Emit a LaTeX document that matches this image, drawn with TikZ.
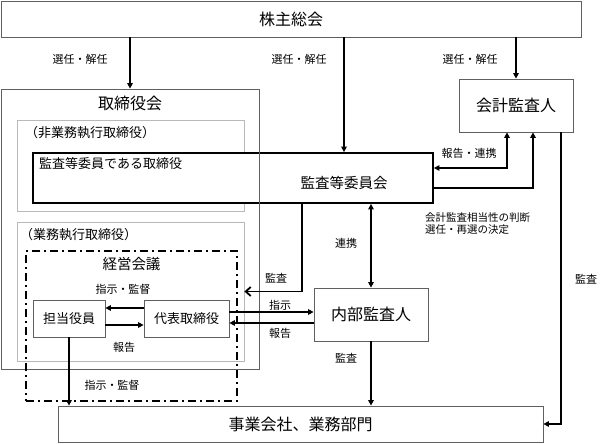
\documentclass[tikz,border=0pt]{standalone}
\usepackage{fontspec}
\setmainfont{Noto Sans CJK JP}
\usetikzlibrary{positioning, arrows.meta}

\tikzset{
  box/.style={draw=gray!75!black, line width=0.8pt, inner sep=0pt},
  subbox/.style={draw=gray!55, line width=0.8pt, inner sep=0pt},
  ttl/.style={font=\fontsize{16}{18}\selectfont, inner sep=0pt},
  mid/.style={font=\fontsize{13}{15}\selectfont, inner sep=0pt},
  lbl/.style={font=\fontsize{11}{12}\selectfont, inner sep=0pt},
  link/.style={line width=1.8pt},
}

\begin{document}
\begin{tikzpicture}[x=1pt, y=-1pt, >={Triangle[length=5.5pt,width=5.5pt]}]
    \useasboundingbox (0,0) rectangle (614,444);

    % boxes
    \node[box, ttl, minimum width=580pt, minimum height=36pt] (top) at (291,19) {株主総会};
    \node[subbox, minimum width=227pt, minimum height=91pt] (nonexec) at (130.5,165.5) {};
    \node[draw, fill=white, line width=1.8pt, minimum width=400pt, minimum height=50pt] (committee) at (233,178) {};
    \node[box, minimum width=258pt, minimum height=280pt] (board) at (130,229) {};
    \node[subbox, minimum width=227pt, minimum height=139pt] (exec) at (130.5,291.5) {};
    \node[line width=1.8pt, draw, dash pattern=on 8pt off 4pt on 2pt off 4pt,
          minimum width=211pt, minimum height=150pt] (meeting) at (131.5,326) {};
    \node[box, mid, minimum width=72pt, minimum height=37pt] (tanto) at (69,318.5) {担当役員};
    \node[box, mid, minimum width=85pt, minimum height=37pt] (rep) at (186.5,318.5) {代表取締役};
    \node[box, ttl, minimum width=114pt, minimum height=53pt] (auditor) at (516,105.5) {会計監査人};
    \node[box, ttl, minimum width=114pt, minimum height=53pt] (internal) at (371,314.5) {内部監査人};
    \node[box, ttl, minimum width=485pt, minimum height=36pt] (biz) at (300.5,424) {事業会社、業務部門};

    % titles
    \node[ttl, below=7pt of board.north] (boardtxt) {取締役会};
    \node[mid, anchor=west] (nonexectxt) at (25,133) {（非業務執行取締役）};
    \node[mid, anchor=west] (membertxt) at (39,164) {監査等委員である取締役};
    \node[mid, font=\fontsize{14.5}{16}\selectfont] (ctxt) at (344,183) {監査等委員会};
    \node[mid, anchor=west] (exectxt) at (20,235) {（業務執行取締役）};
    \node[mid, font=\fontsize{14.5}{16}\selectfont, below=7pt of meeting.north] (meetingtxt) {経営会議};

    % connectors
    \draw[link, ->] (top.south -| board.north) -- (board.north);
    \draw[link, ->] (top.south -| ctxt) -- (ctxt |- committee.north);
    \draw[link, ->] (top.south -| auditor.north) -- (auditor.north);
    \draw[link, <->] ([xshift=-9pt]auditor.south) |- ([yshift=10pt]committee.east);
    \draw[link, ->] ([yshift=-10pt]committee.east) -| ([xshift=17pt]auditor.south);
    \draw[link, ->] ([xshift=45pt]auditor.south) |- (biz.east);
    \draw[link, -{Straight Barb[length=5pt,width=9pt]}] ([xshift=69pt]committee.south) |- (exec.east);
    \draw[link, <->] (committee.south -| internal.north) -- (internal.north);
    \draw[link, ->] ([yshift=6.5pt]rep.east) -- ([yshift=6.5pt]rep.east -| internal.west);
    \draw[link, ->] ([yshift=-4.5pt]rep.east -| internal.west) -- ([yshift=-4.5pt]rep.east);
    \draw[link, ->] (internal.south) -- (internal.south |- biz.north);
    \draw[link, ->] ([yshift=10.5pt]rep.west) -- ([yshift=10.5pt]rep.west -| tanto.east);
    \draw[link, ->] ([yshift=-6.5pt]tanto.east) -- ([yshift=-6.5pt]tanto.east -| rep.west);
    \draw[link, ->] (tanto.south) -- (tanto.south |- biz.north);

    % labels
    \node[lbl] (elect1) at (80,59) {選任・解任};
    \node[lbl] (elect2) at (299,59) {選任・解任};
    \node[lbl] (elect3) at (470,59) {選任・解任};
    \node[lbl] (report1) at (469,153) {報告・連携};
    \node[lbl, anchor=west, align=left, font=\fontsize{10.5}{11.5}\selectfont] (judge) at (425,223.5)
          {会計監査相当性の判断\\選任・再選の決定};
    \node[lbl] (coop) at (346,243) {連携};
    \node[lbl] (audit1) at (276,278) {監査};
    \node[lbl] (order1) at (280,305) {指示};
    \node[lbl] (report2) at (280,333) {報告};
    \node[lbl] (audit2) at (346,358) {監査};
    \node[lbl] (audit3) at (586,279) {監査};
    \node[lbl] (super1) at (123,289) {指示・監督};
    \node[lbl] (report3) at (124,347) {報告};
    \node[lbl] (super2) at (112,385) {指示・監督};
\end{tikzpicture}
\end{document}
